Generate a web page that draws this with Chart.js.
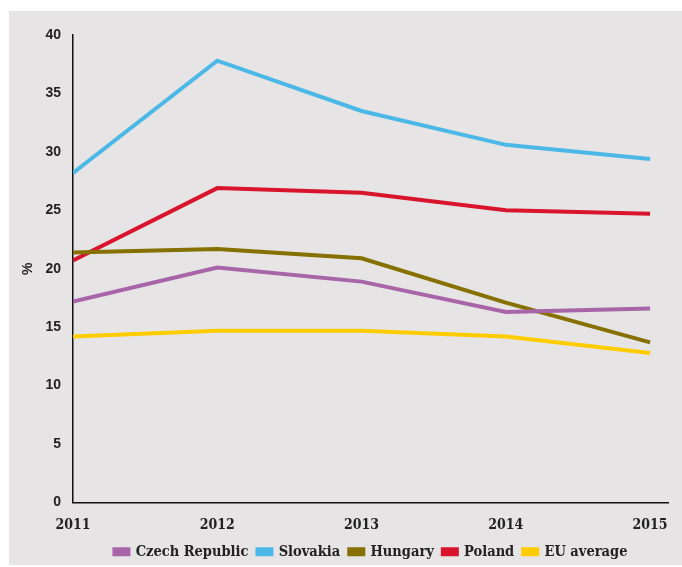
<!DOCTYPE html>
<html>
<head>
<meta charset="utf-8">
<script src="https://cdn.jsdelivr.net/npm/chart.js@4"></script>
<style>
  html, body { margin: 0; padding: 0; background: #fff; }
  #panel { position: absolute; left: 9px; top: 11px; width: 673px; height: 554px; background: #e6e4e5; }
  #c { position: absolute; left: 0; top: 0; }
</style>
</head>
<body>
<div id="panel"><canvas id="c" width="673" height="558"></canvas></div>
<script>
const years = [2011, 2012, 2013, 2014, 2015];
const czech = [17.2, 20.1, 18.9, 16.3, 16.6];
const slovakia = [28.2, 37.8, 33.5, 30.6, 29.4];
const hungary = [21.4, 21.7, 20.9, 17.1, 13.7];
const poland = [20.7, 26.9, 26.5, 25.0, 24.7];
const euAverage = [14.2, 14.7, 14.7, 14.2, 12.8];

function line(label, values, color) {
  return {
    label,
    data: values.map((v, i) => ({ x: years[i], y: v })),
    borderColor: color,
    backgroundColor: color,
    borderWidth: 4,
    pointRadius: 0,
    tension: 0
  };
}

// centre the legend under the plot area rather than the whole canvas
const centreLegend = {
  id: "centreLegend",
  beforeDraw(chart) {
    const l = chart.legend, ca = chart.chartArea;
    if (!l || l._centred) return;
    const shift = (ca.left + ca.right) / 2 - (l.left + l.right) / 2;
    l.left += shift;
    l.right += shift;
    l._centred = true;
  }
};

const ctx = document.getElementById("c").getContext("2d");
new Chart(ctx, {
  type: "line",
  data: {
    datasets: [
      line("Czech Republic", czech, "#a865a8"),
      line("Slovakia", slovakia, "#4cb8e8"),
      line("Hungary", hungary, "#857000"),
      line("Poland", poland, "#d8152c"),
      line("EU average", euAverage, "#ffcc00")
    ]
  },
  options: {
    responsive: false,
    animation: false,
    layout: { padding: { top: 24, right: 12, left: 0, bottom: 0 } },
    plugins: {
      tooltip: { enabled: false },
      legend: {
        position: "bottom",
        labels: {
          boxWidth: 14,
          boxHeight: 5,
          padding: 9,
          color: "#222",
          font: { family: "DejaVu Serif Condensed", weight: "bold", size: 14.5 }
        }
      }
    },
    scales: {
      x: {
        type: "linear",
        min: 2011, max: 2015.13,
        grid: { display: false, drawTicks: false },
        border: { color: "#111", width: 1.5 },
        ticks: {
          stepSize: 1,
          includeBounds: false,
          color: "#222",
          padding: 14,
          maxRotation: 0,
          font: { family: "DejaVu Serif Condensed", weight: "bold", size: 14 },
          callback: v => String(v)
        },
        afterFit: s => { s.height = 33; }
      },
      y: {
        min: 0, max: 40,
        grid: { display: false, drawTicks: false },
        border: { color: "#111", width: 1.5 },
        title: {
          display: true, text: "%", color: "#222",
          padding: { top: 11, bottom: 4 },
          font: { family: "Liberation Sans", weight: "bold", size: 14 }
        },
        ticks: {
          stepSize: 5,
          color: "#222",
          padding: 12,
          font: { family: "Liberation Sans", weight: "bold", size: 14 }
        },
        afterFit: s => { s.width = 64; }
      }
    }
  },
  plugins: [centreLegend]
});
</script>
</body>
</html>
